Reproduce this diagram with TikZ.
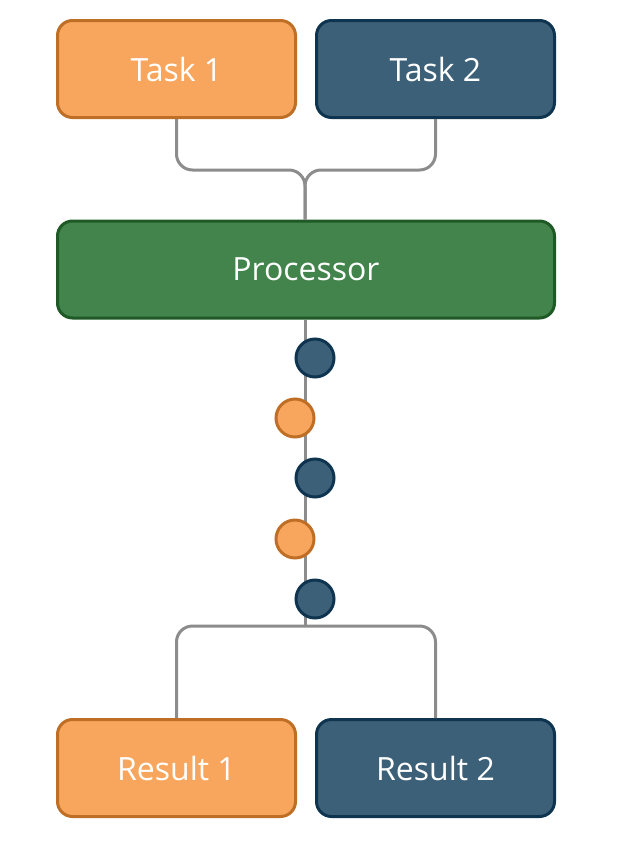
\documentclass[tikz,border=0pt]{standalone}
\usepackage{fontspec}
\setmainfont{Open Sans}
\definecolor{orangefill}{HTML}{F8A65D}
\definecolor{orangeline}{HTML}{BF6E25}
\definecolor{bluefill}{HTML}{3C6078}
\definecolor{blueline}{HTML}{0E3450}
\definecolor{greenfill}{HTML}{42844B}
\definecolor{greenline}{HTML}{1F5A26}
\definecolor{linkgray}{HTML}{8C8C8C}
\begin{document}
\begin{tikzpicture}[x=1pt,y=-1pt,
    box/.style={draw,line width=3pt,rounded corners=15pt,minimum width=238pt,minimum height=97pt,
      inner sep=0pt,text=white,font=\fontsize{32}{38}\selectfont},
    orangebox/.style={box,fill=orangefill,draw=orangeline},
    bluebox/.style={box,fill=bluefill,draw=blueline},
    token/.style={circle,draw,line width=3pt,minimum size=38pt,inner sep=0pt},
    link/.style={draw=linkgray,line width=3pt,rounded corners=16pt}]
  \useasboundingbox (0,0) rectangle (617,852);

  \node[orangebox] (T1) at (176.5,69){Task 1};
  \node[bluebox] (T2) at (435.5,69){Task 2};
  \node[box,fill=greenfill,draw=greenline,minimum width=497pt] (P) at (306,269.5){Processor};
  \node[orangebox] (R1) at (176.5,768){Result 1};
  \node[bluebox] (R2) at (435.5,768){Result 2};

  \coordinate (J1) at (305,170);
  \coordinate (J2) at (305,626);

  \draw[link] (T1.south) |- (J1) -- (J1 |- P.north);
  \draw[link] (T2.south) |- (J1) -- (J1 |- P.north);
  \draw[link] (J1 |- P.south) -- (J2);
  \draw[link] (R1.north) |- (J2) -| (R2.north);

  % tokens on the way out
  \node[token,fill=bluefill,draw=blueline] (D1) at (315,358){};
  \node[token,fill=orangefill,draw=orangeline] (O1) at (295,418){};
  \node[token,fill=bluefill,draw=blueline] (D2) at (315,478){};
  \node[token,fill=orangefill,draw=orangeline] (O2) at (295,539){};
  \node[token,fill=bluefill,draw=blueline] (D3) at (315,599){};
\end{tikzpicture}
\end{document}
